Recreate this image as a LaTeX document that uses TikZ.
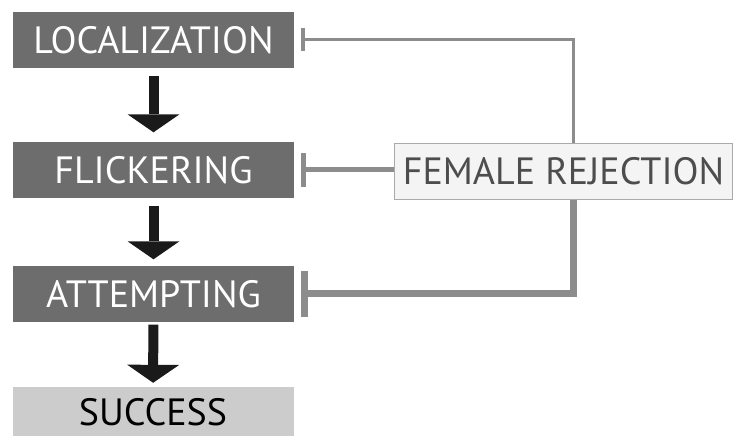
\documentclass[tikz,border=0pt]{standalone}
\usepackage{fontspec}
\setmainfont{PT Sans}
\usetikzlibrary{arrows.meta}
\definecolor{stagegray}{HTML}{6D6D6D}
\definecolor{inhgray}{HTML}{8C8C8C}
\definecolor{femfill}{HTML}{F4F4F4}
\definecolor{femdraw}{HTML}{AAAAAA}
\definecolor{femtext}{HTML}{4D4D4D}
\definecolor{succfill}{HTML}{CCCCCC}
\definecolor{flowblack}{HTML}{1A1A1A}
\begin{document}
\begin{tikzpicture}[x=1pt,y=-1pt,
        label/.style={inner sep=0pt,minimum height=56pt,text height=27pt,text depth=0pt,
            font=\fontsize{38}{40}\selectfont},
        stage/.style={label,fill=stagegray,text=white,minimum width=281pt},
        flow/.style={draw=flowblack,line width=10pt,
            -{Triangle[width=52pt,length=18pt,line width=0pt]}},
        inh/.style n args={3}{draw=inhgray,line width=#1,
            -{Rectangle[width=#3,length=#2,line width=0pt]}}]
    \useasboundingbox (0,0) rectangle (737,436);
    \node[stage] (loc) at (153.5,40) {LOCALIZATION};
    \node[stage] (fli) at (153.5,169.5) {FLICKERING};
    \node[stage] (att) at (153.5,293.5) {ATTEMPTING};
    \node[label,fill=succfill,text=black,minimum width=281pt,minimum height=49pt]
        (suc) at (153,411.5) {SUCCESS};
    \node[label,fill=femfill,draw=femdraw,line width=1pt,text=femtext,minimum width=338pt,
        minimum height=56pt,anchor=west] (fem) at (394,171) {FEMALE REJECTION};
    \draw[flow,shorten <=8pt,shorten >=9pt] (loc) -- (fli);
    \draw[flow,shorten <=8pt,shorten >=6pt] (fli) -- (att);
    \draw[flow,shorten <=3pt,shorten >=4pt] (att) -- (suc);
    \draw[inh={3pt}{4pt}{23pt},shorten >=6.7pt] ([xshift=10pt]fem.north) |- (loc.east);
    \draw[inh={5pt}{5.5pt}{34pt},shorten >=6.7pt] (fem.west |- fli.east) -- (fli.east);
    \draw[inh={6.5pt}{7pt}{46pt},shorten >=6.7pt] ([xshift=10pt]fem.south) |- (att.east);
\end{tikzpicture}
\end{document}
